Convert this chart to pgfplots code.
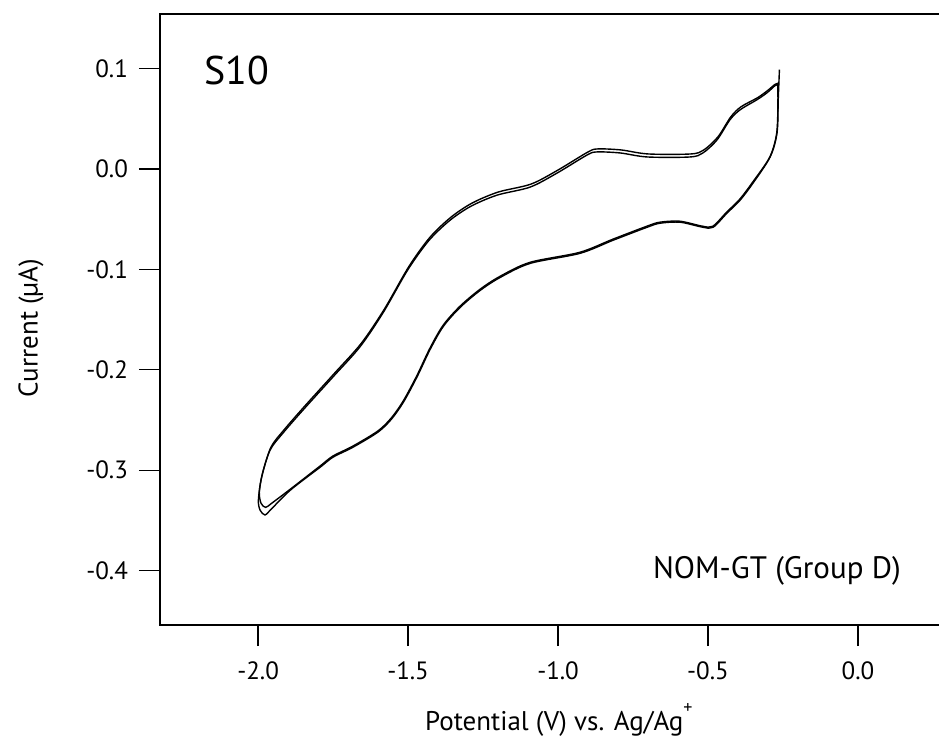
\documentclass[border=0pt]{standalone}
\usepackage{pgfplots}
\pgfplotsset{compat=1.18}
\usepackage{fontspec}
\setmainfont{PT Sans}
\begin{document}
\begin{tikzpicture}
\begin{axis}[
  scale only axis, width=389.5pt, height=305.5pt,
  xmin=-2.327, xmax=0.27, ymin=-0.4542, ymax=0.1544,
  axis line style={draw=none},
  xtick={-2,-1.5,-1,-0.5,0}, ytick={-0.4,-0.3,-0.2,-0.1,0,0.1},
  xtick pos=bottom, ytick pos=left,
  tick align=outside, major tick length=10.5pt,
  tick style={black, line width=0.6pt},
  minor tick num=0,
  /pgf/number format/assume math mode=true,
  /pgf/number format/.cd, fixed, fixed zerofill, precision=1, /pgfplots/.cd,
  tick label style={font=\fontsize{12.5}{15}\selectfont},
  xticklabel style={yshift=-4.5pt},
  yticklabel style={xshift=-2pt},
  xlabel={Potential (V) vs. Ag/Ag\raisebox{1.2ex}{\fontsize{9}{10}\selectfont +}},
  ylabel={Current (µA)},
  label style={font=\fontsize{13.5}{16}\selectfont},
  xlabel style={at={(axis description cs:0.512,-0.172)}, anchor=base},
  ylabel style={at={(axis description cs:-0.1656,0.486)}, anchor=center},
  clip=false,
]
\draw[line width=0.8pt] (rel axis cs:1,1) -- (rel axis cs:0,1) -- (rel axis cs:0,0) -- (rel axis cs:1,0);
\coordinate (bl) at (rel axis cs:0,0);
\coordinate (tr) at (rel axis cs:1,1);
% cycle 1
\addplot[black, line width=0.7pt, smooth, tension=0.5] coordinates {
(-0.262,0.099) (-0.266,0.069) (-0.270,0.036) (-0.293,0.012) (-0.350,-0.014)
(-0.393,-0.031) (-0.437,-0.044) (-0.483,-0.058) (-0.517,-0.058) (-0.593,-0.053)
(-0.660,-0.054) (-0.703,-0.058) (-0.817,-0.071) (-0.927,-0.084) (-1.093,-0.094)
(-1.193,-0.108) (-1.260,-0.121) (-1.327,-0.138) (-1.383,-0.157) (-1.427,-0.180)
(-1.470,-0.207) (-1.515,-0.232) (-1.555,-0.249) (-1.600,-0.262) (-1.683,-0.277)
(-1.750,-0.287) (-1.793,-0.297) (-1.893,-0.320) (-1.960,-0.340) (-1.977,-0.3446)
(-1.993,-0.340) (-1.999,-0.330) (-1.988,-0.3065) (-1.960,-0.280) (-1.917,-0.263)
(-1.850,-0.240) (-1.750,-0.207) (-1.660,-0.177) (-1.583,-0.143) (-1.500,-0.100)
(-1.430,-0.071) (-1.360,-0.051) (-1.290,-0.037) (-1.203,-0.026) (-1.093,-0.018)
(-1.003,-0.004) (-0.903,0.014) (-0.870,0.017) (-0.793,0.016) (-0.703,0.012)
(-0.560,0.012) (-0.517,0.016) (-0.470,0.029) (-0.427,0.049) (-0.393,0.059)
(-0.337,0.069) (-0.303,0.076) (-0.277,0.083) (-0.267,0.084)
};
% cycle 2
\addplot[black, line width=0.7pt, smooth, tension=0.5] coordinates {
(-0.268,0.086) (-0.267,0.068) (-0.271,0.036) (-0.294,0.012) (-0.351,-0.013)
(-0.394,-0.030) (-0.438,-0.043) (-0.484,-0.057) (-0.518,-0.057) (-0.594,-0.052)
(-0.661,-0.053) (-0.704,-0.057) (-0.818,-0.070) (-0.928,-0.083) (-1.094,-0.093)
(-1.194,-0.107) (-1.261,-0.120) (-1.328,-0.137) (-1.384,-0.156) (-1.428,-0.179)
(-1.471,-0.206) (-1.516,-0.231) (-1.556,-0.248) (-1.601,-0.261) (-1.684,-0.276)
(-1.751,-0.286) (-1.794,-0.296) (-1.893,-0.319) (-1.955,-0.333) (-1.975,-0.337)
(-1.990,-0.333) (-1.996,-0.322) (-1.985,-0.303) (-1.957,-0.277) (-1.914,-0.260)
(-1.847,-0.237) (-1.747,-0.204) (-1.657,-0.174) (-1.580,-0.140) (-1.497,-0.097)
(-1.427,-0.068) (-1.357,-0.048) (-1.287,-0.034) (-1.200,-0.023) (-1.090,-0.015)
(-1.000,-0.001) (-0.900,0.017) (-0.867,0.020) (-0.790,0.019) (-0.700,0.015)
(-0.557,0.015) (-0.514,0.019) (-0.467,0.032) (-0.424,0.052) (-0.390,0.062)
(-0.335,0.071) (-0.302,0.078) (-0.278,0.084) (-0.270,0.085)
};
\node[anchor=base west, font=\fontsize{20}{24}\selectfont] at (rel axis cs:0.0475,0.884) {S10};
\node[anchor=base east, font=\fontsize{15.5}{18}\selectfont] at (rel axis cs:0.960,0.0769) {NOM-GT (Group D)};
\end{axis}
\pgfresetboundingbox
\path[use as bounding box] ([shift={(-80pt,-59.5pt)}]bl) rectangle ([shift={(0pt,7pt)}]tr);
\end{tikzpicture}
\end{document}
